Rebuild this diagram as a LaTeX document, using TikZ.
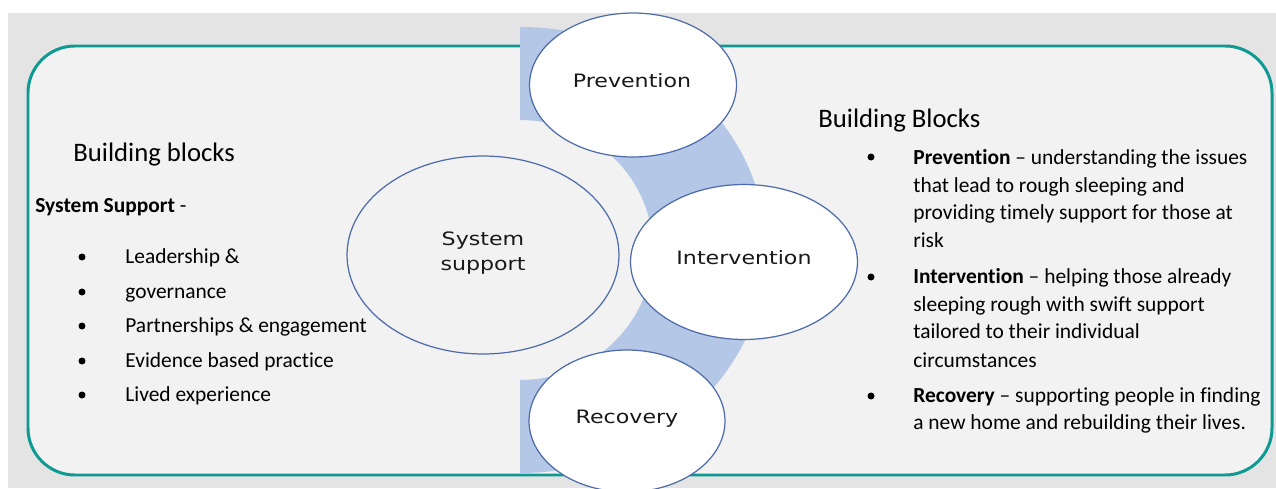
\documentclass[tikz,border=0pt]{standalone}
\usepackage{fontspec}
\setmainfont{Carlito}[Ligatures={TeX,NoCommon}]
\newfontfamily\bubfont{DejaVu Sans}[FakeStretch=1.2]
\usepackage{xcolor}
\usetikzlibrary{shapes.geometric}
\definecolor{pagegray}{HTML}{E4E4E4}
\definecolor{boxgray}{HTML}{F2F2F2}
\definecolor{tealline}{HTML}{0E9A93}
\definecolor{bandblue}{HTML}{B4C7E7}
\definecolor{bubline}{HTML}{4E6CAB}

\begin{document}
\begin{tikzpicture}[x=0.02cm,y=0.02cm,
            bub/.style={ellipse,draw=bubline,line width=0.7pt,fill=white,inner sep=0pt},
            bubtxt/.style={font=\bubfont\fontsize{10.5}{12.5}\selectfont,text=black!90,inner sep=0pt,anchor=base},
            txt/.style={font=\fontsize{12.2}{14}\selectfont,inner sep=0pt,anchor=base west},
            head/.style={font=\fontsize{15.2}{18}\selectfont,inner sep=0pt,anchor=base west},
            dot/.style={circle,fill=black,inner sep=0pt,minimum size=0.14cm}]
    \useasboundingbox (0,0) rectangle (1276,488);
    \clip (0,0) rectangle (1276,488);
    \fill[pagegray] (8,0) rectangle (1276,475);
    \draw[tealline,line width=1.7pt,fill=boxgray,rounded corners=0.94cm] (28,13) rectangle (1272,442);
    \fill[bandblue] (520,461) arc[start angle=90,end angle=-90,x radius=246,y radius=223]
        -- (520,108) arc[start angle=-90,end angle=90,x radius=133,y radius=130] -- cycle;
    \node[bub,fill=boxgray,minimum width=5.44cm,minimum height=3.96cm] (sys) at (483,233) {};
    \node[bub,minimum width=4.14cm,minimum height=2.88cm] (prev) at (633,403) {};
    \node[bub,minimum width=4.54cm,minimum height=3.1cm] (interv) at (744,226) {};
    \node[bub,minimum width=3.92cm,minimum height=2.84cm] (recov) at (627,67) {};
    \node[bubtxt] (prevt) at (632,401) {Prevention};
    \node[bubtxt] (intervt) at (744,224) {Intervention};
    \node[bubtxt] (recovt) at (627,65) {Recovery};
    \node[bubtxt] (syst1) at (483,243) {System};
    \node[bubtxt] (syst2) at (483,218) {support};
    \node[head] (lhead) at (73,327) {Building blocks};
    \node[txt] (lsub) at (35,276) {\textbf{System Support} -};
    \foreach \y/\t [count=\i] in {225/Leadership \&, 190/governance, 156/Partnerships \& engagement,
            121/Evidence based practice, 87/Lived experience}{
        \node[dot] (ld\i) at (82,\y+6) {};
        \node[txt] (l\i) at (125,\y) {\t};
    }
    \node[head] (rhead) at (818,361) {Building Blocks};
    \node[dot] (rd1) at (871,331) {};
    \node[dot] (rd2) at (871,211) {};
    \node[dot] (rd3) at (871,92) {};
    \foreach \y/\t [count=\i] in {324/{\textbf{Prevention} \textendash{} understanding the issues},
            296/that lead to rough sleeping and, 269/providing timely support for those at, 241/risk,
            205/{\textbf{Intervention} \textendash{} helping those already}, 177/sleeping rough with swift support,
            150/tailored to their individual, 121/circumstances,
            86/{\textbf{Recovery} \textendash{} supporting people in finding}, 59/a new home and rebuilding their lives.}{
        \node[txt] (r\i) at (913,\y) {\t};
    }
\end{tikzpicture}
\end{document}
